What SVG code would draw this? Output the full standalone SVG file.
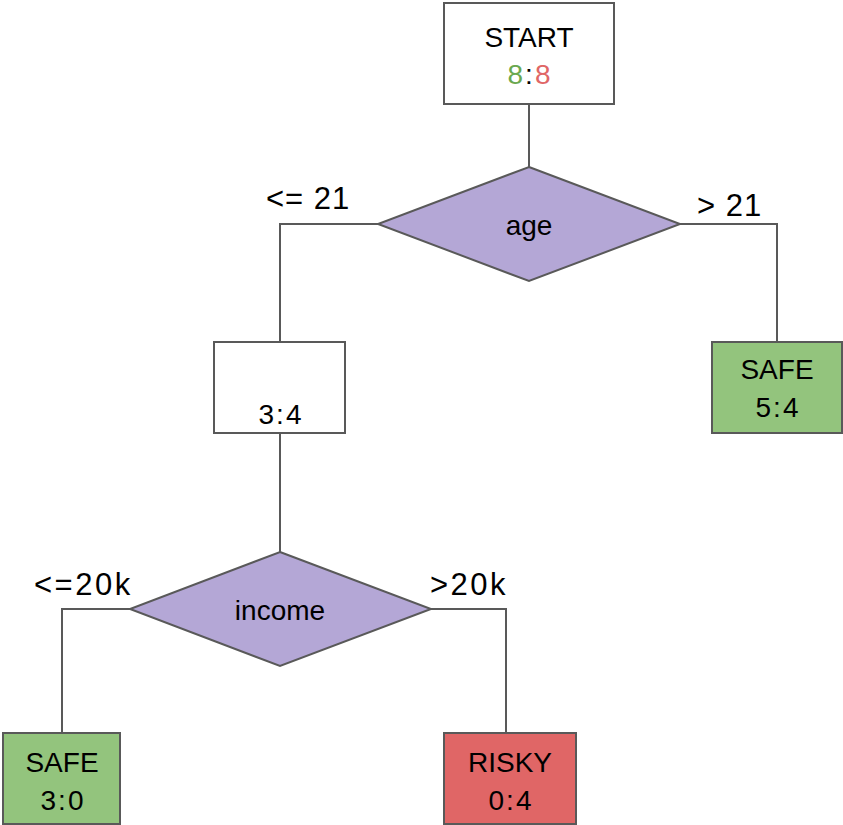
<svg xmlns="http://www.w3.org/2000/svg" width="843" height="825" viewBox="0 0 843 825">
  <style>
    .box { stroke: #595959; stroke-width: 2; }
    .plain { fill: #ffffff; }
    .safe { fill: #93c47d; }
    .risky { fill: #e06666; }
    .split { fill: #b4a7d6; stroke: #595959; stroke-width: 2; }
    .edge { fill: none; stroke: #595959; stroke-width: 2; }
    text { font-family: "Liberation Sans", Arial, sans-serif; fill: #000000; }
    .t { font-size: 28px; text-anchor: middle; }
    .num { letter-spacing: 2px; }
    .lbl { font-size: 31px; letter-spacing: 1px; }
    .lblk { letter-spacing: 2.5px; }
  </style>

  <!-- connectors -->
  <g id="connectors">
    <path class="edge" d="M529,104 V167"/>
    <path class="edge" d="M378,224 H280 V342"/>
    <path class="edge" d="M680,224 H777 V342"/>
    <path class="edge" d="M280,433 V552"/>
    <path class="edge" d="M130,609 H62 V733"/>
    <path class="edge" d="M431,609 H506 V733"/>
  </g>

  <!-- branch labels -->
  <g id="labels">
    <text class="lbl" x="266" y="209">&lt;= 21</text>
    <text class="lbl" x="697" y="216">&gt; 21</text>
    <text class="lbl lblk" x="34" y="595">&lt;=20k</text>
    <text class="lbl lblk" x="430" y="595">&gt;20k</text>
  </g>

  <g id="start">
    <rect class="box plain" x="444" y="3" width="170" height="101"/>
    <text class="t" x="529" y="47">START</text>
    <text class="t num" x="530" y="84"><tspan fill="#6aa84f">8</tspan><tspan>:</tspan><tspan fill="#e06666">8</tspan></text>
  </g>

  <g id="age">
    <polygon class="split" points="529,167 680,224 529,281 378,224"/>
    <text class="t" x="529" y="235">age</text>
  </g>

  <g id="node-3-4">
    <rect class="box plain" x="214" y="342" width="131" height="91"/>
    <text class="t num" x="281" y="424">3:4</text>
  </g>

  <g id="safe-5-4">
    <rect class="box safe" x="712" y="342" width="130" height="91"/>
    <text class="t" x="777" y="379">SAFE</text>
    <text class="t num" x="778" y="417">5:4</text>
  </g>

  <g id="income">
    <polygon class="split" points="280,552 431,609 280,666 130,609"/>
    <text class="t" x="280" y="620">income</text>
  </g>

  <g id="safe-3-0">
    <rect class="box safe" x="3" y="733" width="117" height="91"/>
    <text class="t" x="62" y="772">SAFE</text>
    <text class="t num" x="63" y="810">3:0</text>
  </g>

  <g id="risky-0-4">
    <rect class="box risky" x="444" y="733" width="132" height="91"/>
    <text class="t" x="510" y="772">RISKY</text>
    <text class="t num" x="511" y="810">0:4</text>
  </g>
</svg>
